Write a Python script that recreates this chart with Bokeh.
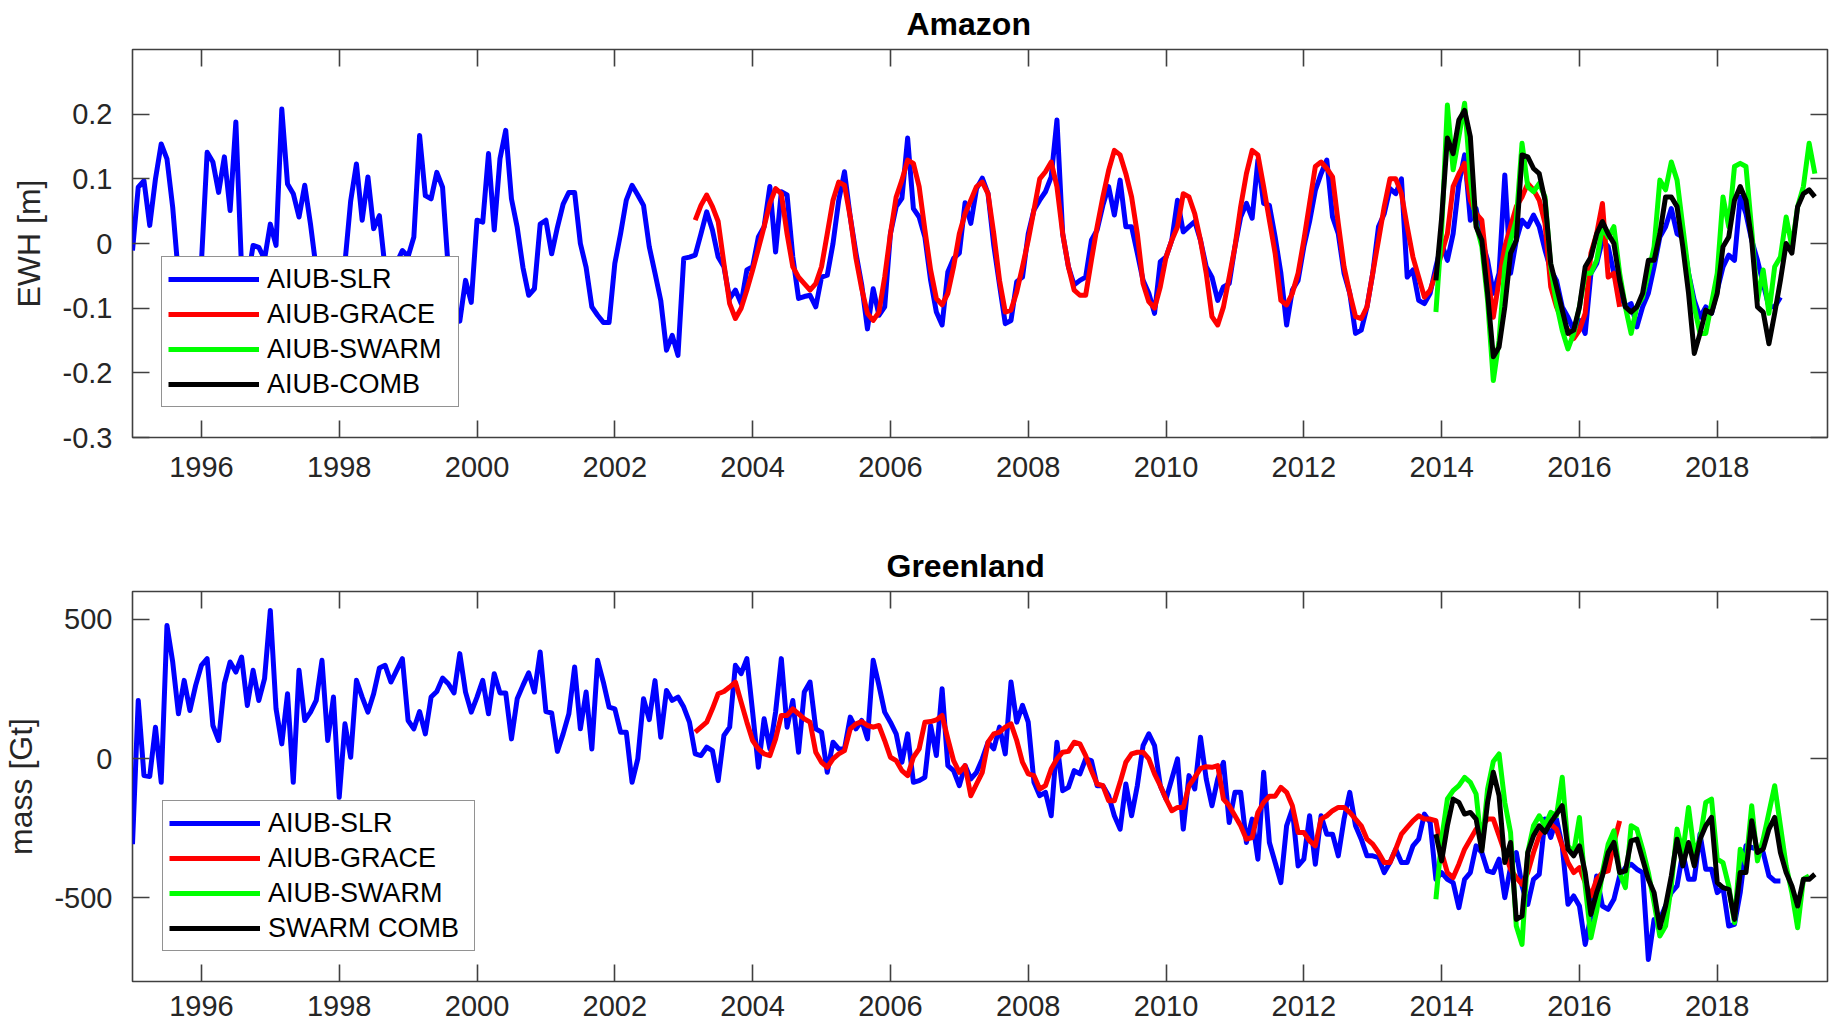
import numpy as np
from bokeh.plotting import figure
from bokeh.layouts import column
from bokeh.models import (FixedTicker, LinearAxis, Legend, LegendItem, Range1d)
from bokeh.embed import file_html
from bokeh.resources import INLINE

# ---------------------------------------------------------------- data
year_ticks = [1996, 1998, 2000, 2002, 2004, 2006, 2008, 2010, 2012, 2014, 2016, 2018]
year_tick_labels = [str(y) for y in year_ticks]
amazon_yticks = [-0.3, -0.2, -0.1, 0.0, 0.1, 0.2]
amazon_ytick_labels = ["-0.3", "-0.2", "-0.1", "0", "0.1", "0.2"]
greenland_yticks = [-500, 0, 500]
greenland_ytick_labels = ["-500", "0", "500"]

amazon_names = ["AIUB-SLR", "AIUB-GRACE", "AIUB-SWARM", "AIUB-COMB"]
greenland_names = ["AIUB-SLR", "AIUB-GRACE", "AIUB-SWARM", "SWARM COMB"]

# monthly series; *_start = first month, counted in months since Jan 1995
amazon_slr_start = 0
amazon_slr = [
    -0.011, 0.087, 0.097, 0.028, 0.100, 0.154, 0.131, 0.056, -0.050, -0.090, -0.110, -0.080,
    -0.030, 0.141, 0.126, 0.079, 0.134, 0.051, 0.188, -0.040, -0.060, -0.003, -0.006, -0.024,
    0.030, -0.003, 0.208, 0.092, 0.077, 0.041, 0.090, 0.030, -0.040, -0.070, -0.100, -0.070,
    -0.040, -0.030, 0.066, 0.123, 0.036, 0.103, 0.023, 0.043, -0.040, -0.070, -0.030, -0.011,
    -0.020, 0.010, 0.167, 0.074, 0.069, 0.110, 0.087, -0.040, -0.090, -0.120, -0.057, -0.091,
    0.036, 0.033, 0.139, 0.021, 0.131, 0.175, 0.069, 0.025, -0.037, -0.080, -0.070, 0.030,
    0.036, -0.016, 0.025, 0.061, 0.079, 0.079, 0.000, -0.037, -0.098, -0.111, -0.122, -0.122,
    -0.031, 0.015, 0.067, 0.090, 0.075, 0.059, -0.005, -0.046, -0.088, -0.165, -0.142, -0.173,
    -0.023, -0.021, -0.018, 0.015, 0.049, 0.021, -0.021, -0.036, -0.085, -0.072, -0.093, -0.041,
    -0.036, 0.010, 0.026, 0.088, -0.013, 0.080, 0.075, -0.021, -0.085, -0.082, -0.080, -0.098,
    -0.052, -0.049, 0.000, 0.067, 0.111, 0.041, -0.015, -0.064, -0.132, -0.070, -0.111, -0.098,
    0.015, 0.057, 0.070, 0.163, 0.054, 0.041, 0.010, -0.057, -0.106, -0.126, -0.044, -0.023,
    -0.015, 0.063, 0.031, 0.085, 0.101, 0.077, -0.003, -0.064, -0.124, -0.119, -0.059, -0.052,
    0.015, 0.052, 0.067, 0.080, 0.103, 0.191, 0.015, -0.036, -0.064, -0.057, -0.052, 0.005,
    0.021, 0.059, 0.088, 0.044, 0.098, 0.026, 0.026, -0.015, -0.057, -0.077, -0.108, -0.028,
    -0.021, 0.005, 0.067, 0.018, 0.026, 0.034, 0.005, -0.036, -0.052, -0.088, -0.067, -0.062,
    -0.005, 0.041, 0.062, 0.039, 0.129, 0.062, 0.059, 0.010, -0.046, -0.126, -0.072, -0.057,
    -0.005, 0.034, 0.082, 0.108, 0.129, 0.041, 0.015, -0.046, -0.077, -0.139, -0.134, -0.098,
    -0.046, 0.026, 0.046, 0.085, 0.077, 0.100, -0.052, -0.041, -0.088, -0.093, -0.077, -0.036,
    0.000, -0.026, 0.015, 0.093, 0.137, 0.036, 0.054, 0.005, -0.026, -0.077, -0.046, 0.106,
    -0.046, 0.005, 0.036, 0.026, 0.044, 0.026, -0.010, -0.041, -0.057, -0.098, -0.114, -0.134,
    -0.119, -0.139, -0.046, -0.031, 0.005, -0.005, -0.046, -0.077, -0.098, -0.093, -0.129, -0.098,
    -0.077, -0.036, 0.010, 0.026, 0.054, 0.015, 0.010, -0.046, -0.088, -0.114, -0.098, -0.108,
    -0.072, -0.036, -0.018, -0.026, 0.072, 0.046, 0.005, -0.026, -0.062, -0.098, -0.098, -0.083,
]

amazon_grace_start = 98
amazon_grace = [
    0.036, 0.059, 0.075, 0.057, 0.034, -0.031, -0.093, -0.116, -0.100, -0.072,
    -0.041, -0.008, 0.026, 0.062, 0.085, 0.077, 0.015, -0.036, -0.052, -0.062,
    -0.072, -0.062, -0.036, 0.015, 0.067, 0.095, 0.090, 0.041, -0.023, -0.070,
    -0.108, -0.119, -0.106, -0.052, 0.015, 0.072, 0.098, 0.129, 0.124, 0.088,
    0.021, -0.041, -0.085, -0.095, -0.077, -0.036, 0.015, 0.046, 0.067, 0.088,
    0.095, 0.077, 0.015, -0.057, -0.106, -0.103, -0.075, -0.036, 0.005, 0.052,
    0.100, 0.111, 0.126, 0.088, 0.015, -0.036, -0.072, -0.080, -0.080, -0.026,
    0.026, 0.072, 0.113, 0.144, 0.137, 0.108, 0.072, 0.015, -0.062, -0.090,
    -0.100, -0.067, -0.021, 0.005, 0.026, 0.077, 0.072, 0.046, 0.005, -0.046,
    -0.113, -0.126, -0.098, -0.052, -0.005, 0.057, 0.108, 0.144, 0.137, 0.088,
    0.036, -0.015, -0.088, -0.095, -0.077, -0.046, 0.005, 0.062, 0.119, 0.126,
    0.116, 0.103, 0.031, -0.036, -0.077, -0.113, -0.116, -0.098, -0.046, 0.005,
    0.057, 0.100, 0.100, 0.077, 0.026, -0.021, -0.052, -0.083, -0.072, -0.046,
    -0.015, 0.015, 0.088, 0.108, 0.124, 0.067, 0.046, 0.036, -0.046, -0.114,
    -0.057, -0.005, 0.026, 0.057, 0.072, 0.093, 0.083, 0.067, 0.031, -0.067,
    -0.098, -0.119, -0.134, -0.147, -0.134, -0.108, -0.015, 0.015, 0.062, -0.052,
    -0.046, -0.098,
]

amazon_swarm_start = 227
amazon_swarm = [
    -0.106, 0.020, 0.214, 0.114, 0.165, 0.217, 0.100, 0.030, -0.005, -0.088,
    -0.212, -0.150, -0.036, 0.005, 0.036, 0.155, 0.088, 0.080, 0.093, 0.072,
    -0.036, -0.093, -0.134, -0.163, -0.139, -0.098, -0.046, -0.046, -0.026, 0.026,
    0.010, 0.026, -0.046, -0.098, -0.139, -0.098, -0.083, -0.046, -0.005, 0.098,
    0.083, 0.126, 0.098, 0.026, -0.046, -0.098, -0.139, -0.139, -0.093, -0.046,
    0.072, 0.026, 0.119, 0.124, 0.119, 0.021, -0.088, -0.041, -0.108, -0.036,
    -0.021, 0.041, -0.005, 0.057, 0.088, 0.155, 0.108,
]

amazon_comb_start = 227
amazon_comb = [
    -0.057, 0.040, 0.163, 0.139, 0.191, 0.206, 0.165, 0.026, 0.005, -0.077,
    -0.175, -0.160, -0.098, -0.015, 0.005, 0.137, 0.134, 0.116, 0.108, 0.067,
    -0.031, -0.067, -0.103, -0.139, -0.134, -0.098, -0.036, -0.021, 0.015, 0.034,
    0.015, 0.000, -0.057, -0.098, -0.106, -0.098, -0.077, -0.026, -0.026, 0.015,
    0.072, 0.072, 0.057, -0.005, -0.077, -0.170, -0.139, -0.103, -0.108, -0.077,
    -0.005, 0.010, 0.067, 0.088, 0.067, 0.005, -0.098, -0.106, -0.155, -0.108,
    -0.057, 0.000, -0.015, 0.057, 0.077, 0.083, 0.072,
]

greenland_slr_start = 0
greenland_slr = [
    -307, 209, -61, -64, 113, -85, 478, 347, 161, 281, 173, 263,
    335, 359, 119, 65, 269, 347, 311, 365, 191, 317, 209, 287,
    532, 179, 53, 233, -85, 317, 137, 167, 209, 353, 65, 221,
    -139, 125, 5, 281, 221, 167, 233, 325, 335, 275, 317, 359,
    137, 107, 169, 89, 221, 241, 289, 269, 236, 377, 239, 167,
    221, 281, 161, 305, 236, 236, 71, 215, 263, 308, 239, 383,
    169, 164, 26, 89, 161, 329, 107, 239, 35, 353, 275, 185,
    179, 95, 95, -85, -1, 215, 140, 280, 77, 245, 209, 221,
    185, 131, 17, 11, 41, 29, -79, 83, 113, 335, 305, 359,
    167, -31, 143, 35, 167, 359, 113, 209, 23, 239, 275, 107,
    95, -49, 59, 35, 35, 149, 107, 137, 71, 353, 263, 167,
    131, 89, -13, 89, -85, -79, -67, 119, 11, 251, -25, -43,
    -97, -25, -73, -49, -1, 59, 35, 113, 17, 275, 131, 191,
    131, -85, -133, -121, -205, 59, -115, -103, -43, -55, -1, -7,
    -97, -97, -133, -205, -253, -91, -205, -97, 47, 89, 47, -97,
    -145, -73, -1, -253, -61, -109, 77, -73, -169, -73, -13, -229,
    -121, -121, -301, -217, -361, -49, -301, -373, -445, -241, -181, -385,
    -361, -205, -379, -205, -271, -271, -349, -217, -121, -241, -289, -349,
    -349, -355, -409, -373, -325, -373, -373, -313, -289, -199, -229, -433,
    -409, -433, -445, -535, -433, -409, -313, -337, -403, -409, -361, -499,
    -390, -337, -457, -523, -433, -415, -217, -283, -217, -313, -523, -493,
    -529, -667, -565, -421, -529, -541, -505, -421, -391, -379, -397, -409,
    -721, -577, -577, -529, -481, -457, -337, -433, -433, -271, -397, -397,
    -481, -463, -601, -595, -481, -313, -319, -325, -337, -421, -439, -439,
]

greenland_grace_start = 98
greenland_grace = [
    95, 113, 131, 179, 233, 241, 257, 275, 203, 131,
    65, 35, 17, 11, 71, 155, 155, 179, 161, 143,
    131, 23, -13, -31, -1, 17, 29, 107, 125, 133,
    119, 113, 119, 65, 5, -7, -43, -61, 5, 35,
    131, 133, 139, 155, 71, -7, -49, -25, -133, -91,
    -49, 59, 89, 95, 113, 125, 65, -13, -55, -61,
    -109, -97, -37, -1, 23, 26, 59, 53, 11, -43,
    -91, -97, -151, -151, -85, -13, 17, 23, 23, -1,
    -55, -97, -145, -187, -175, -175, -97, -67, -35, -29,
    -31, -25, -145, -169, -205, -241, -289, -283, -193, -157,
    -135, -135, -103, -121, -169, -265, -265, -295, -313, -217,
    -205, -187, -175, -175, -193, -217, -241, -289, -307, -337,
    -373, -373, -325, -271, -247, -223, -205, -217, -217, -223,
    -337, -409, -427, -379, -325, -289, -253, -241, -217, -217,
    -277, -337, -397, -427, -451, -409, -337, -277, -241, -235,
    -253, -313, -373, -409, -391, -445, -493, -433, -409, -403,
    -301, -223,
]

greenland_swarm_start = 227
greenland_swarm = [
    -505, -289, -145, -115, -97, -67, -85, -127, -320, -109,
    -10, 17, -157, -265, -601, -667, -337, -241, -205, -241,
    -193, -205, -67, -313, -337, -211, -457, -643, -547, -409,
    -307, -259, -409, -463, -241, -253, -325, -409, -517, -637,
    -601, -457, -253, -337, -175, -337, -289, -157, -145, -361,
    -373, -457, -589, -325, -379, -169, -367, -289, -193, -97,
    -241, -385, -481, -607, -433, -421,
]

greenland_comb_start = 227
greenland_comb = [
    -271, -367, -241, -145, -157, -199, -193, -217, -331, -157,
    -49, -133, -373, -301, -577, -565, -337, -277, -241, -265,
    -229, -199, -169, -325, -349, -313, -409, -559, -481, -421,
    -337, -301, -409, -403, -295, -289, -361, -433, -481, -607,
    -529, -421, -289, -385, -301, -385, -289, -241, -211, -445,
    -463, -469, -577, -409, -409, -223, -337, -325, -253, -211,
    -337, -409, -457, -529, -433, -433, -415,
]

# ---------------------------------------------------------------- style
FONT = "Liberation Sans"
FRAME = "#404040"
TXT = "#262626"
COLORS = ["#0000ff", "#ff0000", "#00ff00", "#000000"]
X_START, X_END = 1995.0, 2019.6


def month_axis(start, n):
    return 1995.0 + (start + np.arange(n)) / 12.0


def style_axis(ax, font_size, standoff):
    ax.axis_line_color = None
    ax.major_tick_line_color = FRAME
    ax.major_tick_line_width = 1.6
    ax.major_tick_in = 17
    ax.major_tick_out = 0
    ax.minor_tick_line_color = None
    ax.major_label_text_font = FONT
    ax.major_label_text_font_size = font_size
    ax.major_label_text_color = TXT
    ax.major_label_standoff = standoff


def mirror_axis(ticks):
    ax = LinearAxis(ticker=FixedTicker(ticks=ticks))
    style_axis(ax, "0px", 0)
    ax.major_label_overrides = {t: "" for t in ticks}
    return ax


def build(height, b_top, b_bottom, b_left, y_lo, y_hi, yticks, ylabels,
          ylab, ylab_standoff, title, title_offset, title_standoff,
          xlab_standoff, series, names, legend_xy, label_width):
    p = figure(width=1837, height=height,
               x_range=Range1d(X_START, X_END), y_range=Range1d(y_lo, y_hi),
               output_backend="svg", toolbar_location=None,
               min_border_left=b_left, min_border_right=10,
               min_border_top=b_top, min_border_bottom=b_bottom)
    p.background_fill_color = "white"
    p.border_fill_color = "white"
    p.outline_line_color = FRAME
    p.outline_line_width = 1.6
    p.xgrid.visible = False
    p.ygrid.visible = False

    p.title.text = title
    p.title.align = "left"
    p.title.vertical_align = "top"
    p.title.offset = title_offset
    p.title.standoff = title_standoff
    p.title.text_font = FONT
    p.title.text_font_size = "32px"
    p.title.text_font_style = "bold"
    p.title.text_color = "black"

    xa = p.xaxis[0]
    xa.ticker = FixedTicker(ticks=year_ticks)
    xa.major_label_overrides = {t: l for t, l in zip(year_ticks, year_tick_labels)}
    style_axis(xa, "29px", xlab_standoff)

    ya = p.yaxis[0]
    ya.ticker = FixedTicker(ticks=yticks)
    ya.major_label_overrides = {t: l for t, l in zip(yticks, ylabels)}
    style_axis(ya, "29px", 20)
    ya.axis_label = ylab
    ya.axis_label_text_font = FONT
    ya.axis_label_text_font_size = "32px"
    ya.axis_label_text_font_style = "normal"
    ya.axis_label_text_color = TXT
    ya.axis_label_standoff = ylab_standoff

    p.add_layout(mirror_axis(year_ticks), "above")
    p.add_layout(mirror_axis(yticks), "right")

    rends = []
    for (start, vals), col in zip(series, COLORS):
        r = p.line(month_axis(start, len(vals)), vals, line_color=col,
                   line_width=5, line_join="round")
        rends.append(r)

    leg = Legend(items=[LegendItem(label=n, renderers=[r]) for n, r in zip(names, rends)],
                 location=legend_xy, margin=0, padding=6, spacing=3,
                 glyph_width=91, glyph_height=32, label_height=32,
                 label_width=label_width, label_standoff=8,
                 label_text_font=FONT, label_text_font_size="27px",
                 label_text_color="black",
                 border_line_color="#262626", border_line_width=1.5,
                 background_fill_color="white", background_fill_alpha=1.0)
    p.add_layout(leg)
    return p


amazon = build(
    height=520, b_top=49, b_bottom=83, b_left=131,
    y_lo=-0.3, y_hi=0.3, yticks=amazon_yticks, ylabels=amazon_ytick_labels,
    ylab="EWH [m]", ylab_standoff=13,
    title="Amazon", title_offset=774, title_standoff=11, xlab_standoff=19,
    series=[(amazon_slr_start, amazon_slr), (amazon_grace_start, amazon_grace),
            (amazon_swarm_start, amazon_swarm), (amazon_comb_start, amazon_comb)],
    names=amazon_names, legend_xy=(29, 30), label_width=185)

greenland = build(
    height=508, b_top=71, b_bottom=47, b_left=127,
    y_lo=-800, y_hi=600, yticks=greenland_yticks, ylabels=greenland_ytick_labels,
    ylab="mass [Gt]", ylab_standoff=12,
    title="Greenland", title_offset=754, title_standoff=12, xlab_standoff=14,
    series=[(greenland_slr_start, greenland_slr), (greenland_grace_start, greenland_grace),
            (greenland_swarm_start, greenland_swarm), (greenland_comb_start, greenland_comb)],
    names=greenland_names, legend_xy=(30, 30), label_width=200)

layout = column(amazon, greenland)
open("out.html", "w").write(file_html(layout, INLINE, "Amazon and Greenland"))
